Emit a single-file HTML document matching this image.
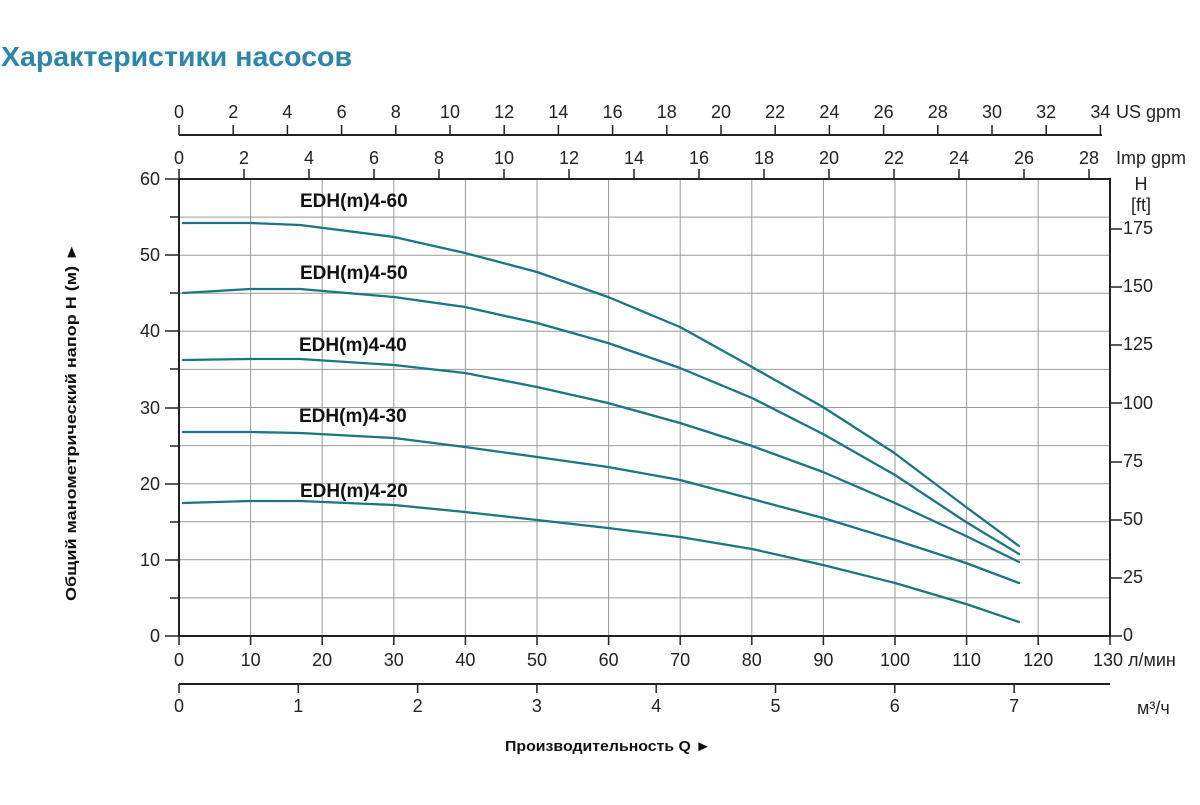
<!DOCTYPE html>
<html><head><meta charset="utf-8"><style>
html,body{margin:0;padding:0;background:#fff;}
svg text{font-family:"Liberation Sans",sans-serif;}
</style></head><body>
<svg width="1200" height="800" viewBox="0 0 1200 800" xmlns="http://www.w3.org/2000/svg">
<text x="1" y="66" font-size="28" font-weight="bold" fill="#2b87a9" textLength="351" lengthAdjust="spacingAndGlyphs">Характеристики насосов</text>
<g stroke="#999" stroke-width="1">
<line x1="250.6" y1="179" x2="250.6" y2="636"/><line x1="322.2" y1="179" x2="322.2" y2="636"/><line x1="393.8" y1="179" x2="393.8" y2="636"/><line x1="465.4" y1="179" x2="465.4" y2="636"/><line x1="537" y1="179" x2="537" y2="636"/><line x1="608.6" y1="179" x2="608.6" y2="636"/><line x1="680.2" y1="179" x2="680.2" y2="636"/><line x1="751.8" y1="179" x2="751.8" y2="636"/><line x1="823.4" y1="179" x2="823.4" y2="636"/><line x1="895" y1="179" x2="895" y2="636"/><line x1="966.6" y1="179" x2="966.6" y2="636"/><line x1="1038.2" y1="179" x2="1038.2" y2="636"/>
<line x1="179" y1="217.1" x2="1110" y2="217.1"/><line x1="179" y1="255.2" x2="1110" y2="255.2"/><line x1="179" y1="293.2" x2="1110" y2="293.2"/><line x1="179" y1="331.3" x2="1110" y2="331.3"/><line x1="179" y1="369.4" x2="1110" y2="369.4"/><line x1="179" y1="407.5" x2="1110" y2="407.5"/><line x1="179" y1="445.6" x2="1110" y2="445.6"/><line x1="179" y1="483.7" x2="1110" y2="483.7"/><line x1="179" y1="521.8" x2="1110" y2="521.8"/><line x1="179" y1="559.8" x2="1110" y2="559.8"/><line x1="179" y1="597.9" x2="1110" y2="597.9"/>
</g>
<g stroke="#222" stroke-width="2" fill="none">
<rect x="179" y="179" width="931" height="457"/>
<line x1="179" y1="135" x2="1102" y2="135"/>
<line x1="179" y1="684" x2="1110" y2="684"/>
</g>
<g stroke="#222" stroke-width="1.5">
<line x1="165" y1="179" x2="179" y2="179"/><line x1="170" y1="217" x2="179" y2="217"/><line x1="165" y1="255" x2="179" y2="255"/><line x1="170" y1="293" x2="179" y2="293"/><line x1="165" y1="331" x2="179" y2="331"/><line x1="170" y1="369" x2="179" y2="369"/><line x1="165" y1="408" x2="179" y2="408"/><line x1="170" y1="446" x2="179" y2="446"/><line x1="165" y1="484" x2="179" y2="484"/><line x1="170" y1="522" x2="179" y2="522"/><line x1="165" y1="560" x2="179" y2="560"/><line x1="170" y1="598" x2="179" y2="598"/><line x1="165" y1="636" x2="179" y2="636"/>
<line x1="179" y1="636" x2="179" y2="645"/><line x1="250.6" y1="636" x2="250.6" y2="645"/><line x1="322.2" y1="636" x2="322.2" y2="645"/><line x1="393.8" y1="636" x2="393.8" y2="645"/><line x1="465.4" y1="636" x2="465.4" y2="645"/><line x1="537" y1="636" x2="537" y2="645"/><line x1="608.6" y1="636" x2="608.6" y2="645"/><line x1="680.2" y1="636" x2="680.2" y2="645"/><line x1="751.8" y1="636" x2="751.8" y2="645"/><line x1="823.4" y1="636" x2="823.4" y2="645"/><line x1="895" y1="636" x2="895" y2="645"/><line x1="966.6" y1="636" x2="966.6" y2="645"/><line x1="1038.2" y1="636" x2="1038.2" y2="645"/><line x1="1110" y1="636" x2="1110" y2="645"/>
<line x1="179" y1="684" x2="179" y2="693"/><line x1="298.3" y1="684" x2="298.3" y2="693"/><line x1="417.6" y1="684" x2="417.6" y2="693"/><line x1="536.9" y1="684" x2="536.9" y2="693"/><line x1="656.2" y1="684" x2="656.2" y2="693"/><line x1="775.5" y1="684" x2="775.5" y2="693"/><line x1="894.8" y1="684" x2="894.8" y2="693"/><line x1="1014.1" y1="684" x2="1014.1" y2="693"/>
<line x1="1110" y1="636" x2="1122" y2="636"/><line x1="1110" y1="578" x2="1122" y2="578"/><line x1="1110" y1="520" x2="1122" y2="520"/><line x1="1110" y1="462" x2="1122" y2="462"/><line x1="1110" y1="403" x2="1122" y2="403"/><line x1="1110" y1="345" x2="1122" y2="345"/><line x1="1110" y1="287" x2="1122" y2="287"/><line x1="1110" y1="229" x2="1122" y2="229"/>
<line x1="179" y1="125" x2="179" y2="135"/><line x1="233.2" y1="125" x2="233.2" y2="135"/><line x1="287.4" y1="125" x2="287.4" y2="135"/><line x1="341.6" y1="125" x2="341.6" y2="135"/><line x1="395.8" y1="125" x2="395.8" y2="135"/><line x1="450" y1="125" x2="450" y2="135"/><line x1="504.2" y1="125" x2="504.2" y2="135"/><line x1="558.4" y1="125" x2="558.4" y2="135"/><line x1="612.6" y1="125" x2="612.6" y2="135"/><line x1="666.8" y1="125" x2="666.8" y2="135"/><line x1="721" y1="125" x2="721" y2="135"/><line x1="775.2" y1="125" x2="775.2" y2="135"/><line x1="829.4" y1="125" x2="829.4" y2="135"/><line x1="883.6" y1="125" x2="883.6" y2="135"/><line x1="937.8" y1="125" x2="937.8" y2="135"/><line x1="992" y1="125" x2="992" y2="135"/><line x1="1046.2" y1="125" x2="1046.2" y2="135"/><line x1="1100.4" y1="125" x2="1100.4" y2="135"/>
<line x1="179" y1="169" x2="179" y2="179"/><line x1="244" y1="169" x2="244" y2="179"/><line x1="309" y1="169" x2="309" y2="179"/><line x1="374" y1="169" x2="374" y2="179"/><line x1="439" y1="169" x2="439" y2="179"/><line x1="504" y1="169" x2="504" y2="179"/><line x1="569" y1="169" x2="569" y2="179"/><line x1="634" y1="169" x2="634" y2="179"/><line x1="699" y1="169" x2="699" y2="179"/><line x1="764" y1="169" x2="764" y2="179"/><line x1="829" y1="169" x2="829" y2="179"/><line x1="894" y1="169" x2="894" y2="179"/><line x1="959" y1="169" x2="959" y2="179"/><line x1="1024" y1="169" x2="1024" y2="179"/><line x1="1089" y1="169" x2="1089" y2="179"/>
</g>
<g font-size="18" fill="#222" text-anchor="middle">
<text x="179" y="118">0</text><text x="233.2" y="118">2</text><text x="287.4" y="118">4</text><text x="341.6" y="118">6</text><text x="395.8" y="118">8</text><text x="450" y="118">10</text><text x="504.2" y="118">12</text><text x="558.4" y="118">14</text><text x="612.6" y="118">16</text><text x="666.8" y="118">18</text><text x="721" y="118">20</text><text x="775.2" y="118">22</text><text x="829.4" y="118">24</text><text x="883.6" y="118">26</text><text x="937.8" y="118">28</text><text x="992" y="118">30</text><text x="1046.2" y="118">32</text><text x="1100.4" y="118">34</text>
<text x="179" y="164">0</text><text x="244" y="164">2</text><text x="309" y="164">4</text><text x="374" y="164">6</text><text x="439" y="164">8</text><text x="504" y="164">10</text><text x="569" y="164">12</text><text x="634" y="164">14</text><text x="699" y="164">16</text><text x="764" y="164">18</text><text x="829" y="164">20</text><text x="894" y="164">22</text><text x="959" y="164">24</text><text x="1024" y="164">26</text><text x="1089" y="164">28</text>
<text x="179" y="666">0</text><text x="250.6" y="666">10</text><text x="322.2" y="666">20</text><text x="393.8" y="666">30</text><text x="465.4" y="666">40</text><text x="537" y="666">50</text><text x="608.6" y="666">60</text><text x="680.2" y="666">70</text><text x="751.8" y="666">80</text><text x="823.4" y="666">90</text><text x="895" y="666">100</text><text x="966.6" y="666">110</text><text x="1038.2" y="666">120</text><text x="1108" y="666">130</text>
<text x="179" y="712">0</text><text x="298.3" y="712">1</text><text x="417.6" y="712">2</text><text x="536.9" y="712">3</text><text x="656.2" y="712">4</text><text x="775.5" y="712">5</text><text x="894.8" y="712">6</text><text x="1014.1" y="712">7</text>
<text x="1141" y="190">H</text><text x="1141" y="211">[ft]</text>
</g>
<g font-size="18" fill="#222" text-anchor="end">
<text x="160" y="185">60</text><text x="160" y="261">50</text><text x="160" y="337">40</text><text x="160" y="414">30</text><text x="160" y="490">20</text><text x="160" y="566">10</text><text x="160" y="642">0</text>
</g>
<g font-size="18" fill="#222">
<text x="1123" y="234">175</text><text x="1123" y="292">150</text><text x="1123" y="350">125</text><text x="1123" y="409">100</text><text x="1123" y="467">75</text><text x="1123" y="525">50</text><text x="1123" y="583">25</text><text x="1123" y="641">0</text>
<text x="1116" y="118">US gpm</text><text x="1116" y="164">Imp gpm</text>
<text x="1128" y="666">л/мин</text><text x="1137" y="714">м³/ч</text>
</g>
<g font-size="19" font-weight="bold" fill="#111">
<text x="300" y="207">EDH(m)4-60</text><text x="300" y="279">EDH(m)4-50</text><text x="299" y="351">EDH(m)4-40</text><text x="299" y="422">EDH(m)4-30</text><text x="300" y="497">EDH(m)4-20</text>
</g>
<g fill="none" stroke="#1a7584" stroke-width="2.3" stroke-linecap="round" stroke-linejoin="round">
<polyline points="183,223 250,223 300,225 394,237 465,253 537,272 608,297 680,327 752,367 823,407 893,452 966,507 1019,546"/>
<polyline points="183,293 250,289 300,289 394,297 465,307 537,323 608,343 680,368 752,398 823,434 895,475 966,522 1019,554"/>
<polyline points="183,360 250,359 300,359 394,365 465,373 537,387 608,403 680,423 752,446 823,472 895,503 966,536 1019,562"/>
<polyline points="183,432 250,432 300,433 394,438 465,447 537,457 608,467 680,480 752,499 823,518 895,540 966,563 1019,583"/>
<polyline points="183,503 250,501 300,501 394,505 465,512 537,520 608,528 680,537 752,549 823,565 895,583 966,604 1019,622"/>
</g>
<text transform="translate(76,601) rotate(-90)" font-size="15" font-weight="bold" fill="#111" textLength="358" lengthAdjust="spacingAndGlyphs">Общий манометрический напор H (м) ►</text>
<text x="505" y="751" font-size="15" font-weight="bold" fill="#111" textLength="206" lengthAdjust="spacingAndGlyphs">Производительность Q ►</text>
</svg>
</body></html>
